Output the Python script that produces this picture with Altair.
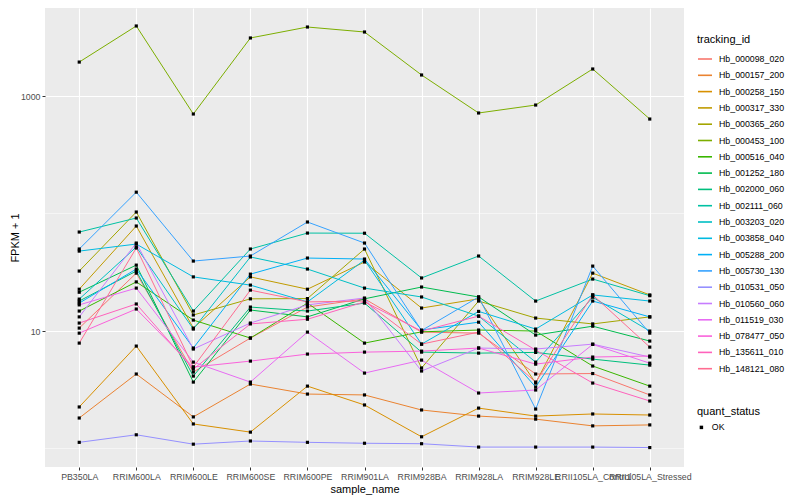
import altair as alt
import pandas as pd

samples = ["PB350LA", "RRIM600LA", "RRIM600LE", "RRIM600SE", "RRIM600PE", "RRIM901LA",
           "RRIM928BA", "RRIM928LA", "RRIM928LE", "RRII105LA_Control", "RRII105LA_Stressed"]

tracking_ids = ["Hb_000098_020", "Hb_000157_200", "Hb_000258_150", "Hb_000317_330",
                "Hb_000365_260", "Hb_000453_100", "Hb_000516_040", "Hb_001252_180",
                "Hb_002000_060", "Hb_002111_060", "Hb_003203_020", "Hb_003858_040",
                "Hb_005288_200", "Hb_005730_130", "Hb_010531_050", "Hb_010560_060",
                "Hb_011519_030", "Hb_078477_050", "Hb_135611_010", "Hb_148121_080"]

colors = ["#F8766D", "#EA8331", "#D89000", "#C09B00", "#A3A500", "#7CAE00", "#39B600",
          "#00BB4E", "#00BF7D", "#00C1A3", "#00BFC4", "#00BAE0", "#00B0F6", "#35A2FF",
          "#9590FF", "#C77CFF", "#E76BF3", "#FA62DB", "#FF62BC", "#FF6C91"]

# FPKM + 1 per sample
hb_000098_020 = [10.6, 31.1, 4.48, 8.72, 16.0, 18.8, 9.8, 9.6, 4.31, 4.35, 2.86]
hb_000157_200 = [1.82, 4.31, 1.86, 3.54, 2.91, 2.86, 2.13, 1.89, 1.78, 1.56, 1.59]
hb_000258_150 = [2.26, 7.45, 1.62, 1.38, 3.40, 2.35, 1.26, 2.21, 1.89, 1.97, 1.93]
hb_000317_330 = [22.7, 78.3, 10.6, 28.9, 22.7, 38.7, 15.7, 18.8, 3.61, 31.1, 20.3]
hb_000365_260 = [32.4, 103, 13.7, 18.8, 18.9, 49.9, 4.85, 18.0, 12.9, 11.5, 13.2]
hb_000453_100 = [1945, 3944, 703, 3118, 3865, 3506, 1510, 717, 838, 1698, 637]
hb_000516_040 = [14.8, 26.2, 12.4, 8.72, 17.3, 7.90, 9.85, 10.2, 10.0, 5.04, 3.40]
hb_001252_180 = [21.4, 36.4, 3.68, 15.1, 13.2, 18.8, 23.7, 19.5, 9.24, 11.0, 8.22]
hb_002000_060 = [18.0, 32.4, 4.14, 16.0, 14.8, 17.3, 6.62, 6.49, 6.58, 5.77, 5.13]
hb_002111_060 = [69.6, 91.6, 14.8, 49.9, 68.2, 68.0, 28.3, 43.5, 18.0, 27.7, 20.0]
hb_003203_020 = [18.7, 51.9, 10.4, 42.7, 33.7, 23.2, 19.5, 13.4, 5.44, 19.4, 10.0]
hb_003858_040 = [47.9, 55.0, 28.9, 24.6, 17.7, 40.2, 7.74, 14.7, 10.4, 20.3, 18.0]
hb_005288_200 = [17.3, 33.7, 7.17, 30.5, 41.8, 41.0, 10.2, 11.9, 3.34, 18.0, 13.2]
hb_005730_130 = [49.9, 152, 39.4, 43.5, 84.7, 56.1, 10.1, 19.5, 2.17, 35.7, 9.6]
hb_010531_050 = [1.13, 1.31, 1.09, 1.16, 1.13, 1.11, 1.10, 1.03, 1.03, 1.03, 1.02]
hb_010560_060 = [13.2, 56.1, 7.03, 11.7, 16.7, 19.1, 4.57, 7.17, 7.03, 7.74, 6.01]
hb_011519_030 = [16.7, 23.2, 5.44, 3.68, 9.8, 4.39, 5.66, 2.97, 3.15, 7.7, 5.33]
hb_078477_050 = [9.6, 15.4, 4.94, 5.55, 6.37, 6.62, 6.75, 7.17, 5.23, 6.01, 6.13]
hb_135611_010 = [11.7, 17.0, 4.75, 11.5, 12.6, 17.7, 10.0, 13.4, 6.89, 3.61, 2.54]
hb_148121_080 = [7.90, 50.9, 4.94, 22.3, 17.7, 18.0, 7.74, 9.8, 3.68, 20.3, 7.3]

series = [hb_000098_020, hb_000157_200, hb_000258_150, hb_000317_330, hb_000365_260,
          hb_000453_100, hb_000516_040, hb_001252_180, hb_002000_060, hb_002111_060,
          hb_003203_020, hb_003858_040, hb_005288_200, hb_005730_130, hb_010531_050,
          hb_010560_060, hb_011519_030, hb_078477_050, hb_135611_010, hb_148121_080]

y_major = [10, 1000]
y_minor = [1, 100]
y_domain = [0.697, 5610]

rows = []
for tid, vals in zip(tracking_ids, series):
    for s, v in zip(samples, vals):
        rows.append({"tracking_id": tid, "sample_name": s, "fpkm": v, "quant_status": "OK"})
df = pd.DataFrame(rows)
minor_df = pd.DataFrame({"fpkm": y_minor})

FONT = "Liberation Sans"

x_enc = alt.X("sample_name:N", sort=samples,
              scale=alt.Scale(type="point", padding=0.6),
              axis=alt.Axis(title="sample_name", labelAngle=0, labelOverlap=False,
                            grid=True, gridColor="white", gridWidth=1.1,
                            domain=False, tickColor="#333333", tickSize=3,
                            labelPadding=2, titlePadding=3,
                            labelFont=FONT, titleFont=FONT, labelFontSize=8.8,
                            titleFontSize=11, labelColor="#4D4D4D",
                            titleColor="black", titleFontWeight="normal"))
y_enc = alt.Y("fpkm:Q",
              scale=alt.Scale(type="log", domain=y_domain, nice=False),
              axis=alt.Axis(title="FPKM + 1", values=y_major, format="d",
                            grid=True, gridColor="white", gridWidth=1.1,
                            domain=False, tickColor="#333333", tickSize=3,
                            labelPadding=2, titlePadding=0,
                            labelFont=FONT, titleFont=FONT, labelFontSize=8.8,
                            titleFontSize=11, labelColor="#4D4D4D",
                            titleColor="black", titleFontWeight="normal"))

minor = alt.Chart(minor_df).mark_rule(color="white", strokeWidth=0.55).encode(y=y_enc)

lines = alt.Chart(df).mark_line(strokeWidth=1).encode(
    x=x_enc, y=y_enc,
    color=alt.Color("tracking_id:N",
                    scale=alt.Scale(domain=tracking_ids, range=colors),
                    legend=alt.Legend(title="tracking_id", orient="none",
                                      legendX=652, legendY=26,
                                      symbolType="stroke", symbolSize=196,
                                      symbolStrokeWidth=1.6, rowPadding=3.3,
                                      labelOffset=6, padding=0,
                                      labelFont=FONT, titleFont=FONT,
                                      labelFontSize=8.8, titleFontSize=11,
                                      labelColor="black", titleColor="black",
                                      titleFontWeight="normal", titlePadding=6)),
)

points = alt.Chart(df).mark_point(filled=True, size=10, opacity=1, color="black").encode(
    x=x_enc, y=y_enc,
    shape=alt.Shape("quant_status:N", scale=alt.Scale(domain=["OK"], range=["square"]),
                    legend=alt.Legend(title="quant_status", orient="none",
                                      legendX=652, legendY=398,
                                      symbolSize=12, symbolFillColor="black",
                                      symbolStrokeColor="black",
                                      labelOffset=6, padding=0,
                                      labelFont=FONT, titleFont=FONT,
                                      labelFontSize=8.8, titleFontSize=11,
                                      labelColor="black", titleColor="black",
                                      titleFontWeight="normal", titlePadding=6)),
)

chart = alt.layer(minor, lines, points).properties(
    width=639, height=459,
    background="white",
    autosize=alt.AutoSizeParams(type="none"),
    padding={"left": 37, "top": 0, "right": 108, "bottom": 33},
).configure_view(
    fill="#EBEBEB", stroke=None
)

chart.save("out.html", embed_options={"renderer": "svg", "actions": False})
